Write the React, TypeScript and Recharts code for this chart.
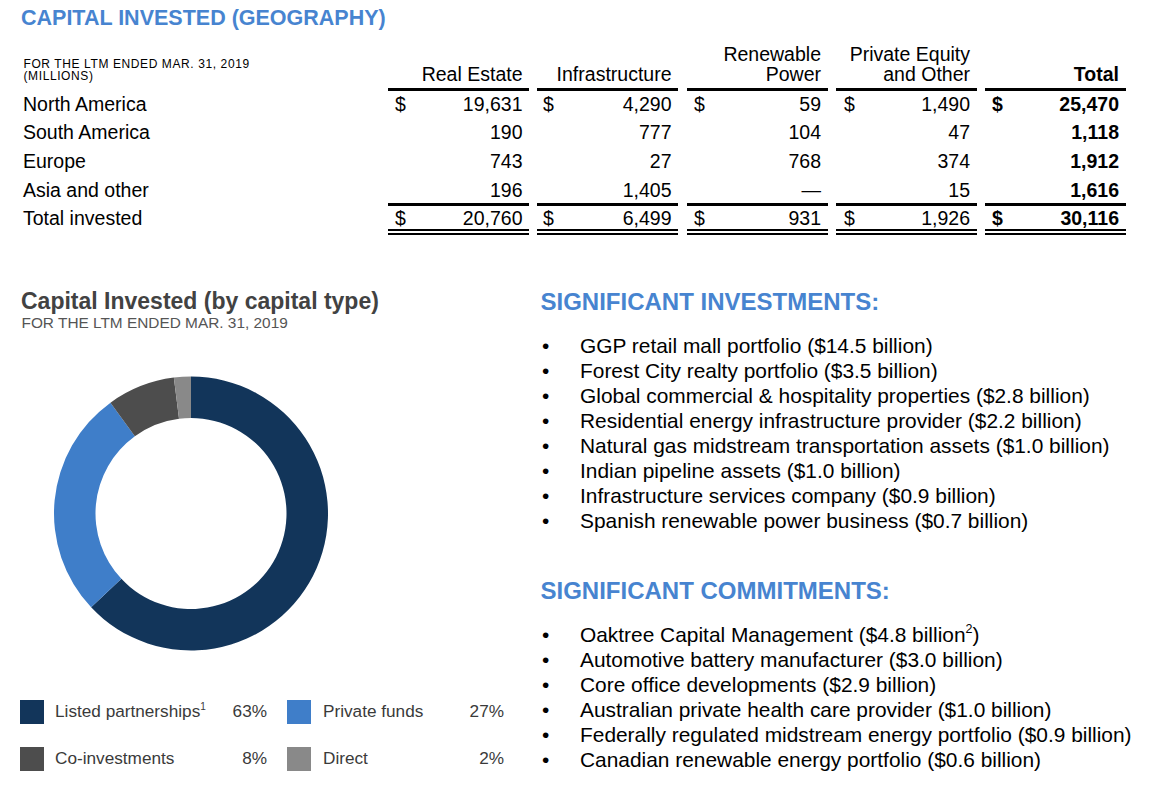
import React from "react";
import { PieChart, Pie, Cell } from "recharts";

const FONT = '"Liberation Sans", Arial, Helvetica, sans-serif';
const BLUE = "#4784d0";

// table: capital invested by geography (millions)
const regions = ["North America", "South America", "Europe", "Asia and other"];
const columnHeads = [["Real Estate"], ["Infrastructure"], ["Renewable", "Power"], ["Private Equity", "and Other"], ["Total"]];
const realEstate = [19631, 190, 743, 196];
const infrastructure = [4290, 777, 27, 1405];
const renewablePower = [59, 104, 768, null];
const privateEquity = [1490, 47, 374, 15];
const regionTotals = [25470, 1118, 1912, 1616];
const totalInvested = [20760, 6499, 931, 1926, 30116];

// donut: capital invested by capital type
const capitalTypes = ["Listed partnerships", "Private funds", "Co-investments", "Direct"];
const capitalShare = [63, 27, 8, 2];
const typeColors = ["#12355a", "#3f7ec9", "#4d4d4d", "#898989"];

const investments = [
  "GGP retail mall portfolio ($14.5 billion)",
  "Forest City realty portfolio ($3.5 billion)",
  "Global commercial & hospitality properties ($2.8 billion)",
  "Residential energy infrastructure provider ($2.2 billion)",
  "Natural gas midstream transportation assets ($1.0 billion)",
  "Indian pipeline assets ($1.0 billion)",
  "Infrastructure services company ($0.9 billion)",
  "Spanish renewable power business ($0.7 billion)",
];
const commitments = [
  "Oaktree Capital Management ($4.8 billion²)",
  "Automotive battery manufacturer ($3.0 billion)",
  "Core office developments ($2.9 billion)",
  "Australian private health care provider ($1.0 billion)",
  "Federally regulated midstream energy portfolio ($0.9 billion)",
  "Canadian renewable energy portfolio ($0.6 billion)",
];

const groupLeft = [388, 537, 687, 836, 985];
const groupWidth = 141;
const dollarLeft = [395, 543, 694, 844, 992];
const valueRight = [522.5, 671.5, 821, 970, 1119];
const rowBase = [110.5, 139.1, 167.7, 196.3];
const totalBase = 224.9;

const fmt = (v: number | null) => (v === null ? "—" : v.toLocaleString("en-US"));

function Txt({ x, base, size, lh, right, bold, color, spacing, children }: any) {
  const L = lh ?? size;
  const style: React.CSSProperties = {
    position: "absolute",
    top: base + 0.8 - (L - 1.117 * size) / 2 - 0.905 * size,
    fontSize: size,
    lineHeight: `${L}px`,
    fontWeight: bold ? 700 : 400,
    color: color ?? "#000",
    whiteSpace: "nowrap",
    letterSpacing: spacing,
  };
  if (right) style.right = 1153 - x;
  else style.left = x;
  return <div style={style}>{children}</div>;
}

function Rule({ x, y, w, h }: any) {
  return <div style={{ position: "absolute", left: x, top: y, width: w, height: h, background: "#000" }} />;
}

function withSup(text: string, size: number) {
  const parts = text.split("²");
  if (parts.length === 1) return text;
  return (
    <>
      {parts[0]}
      <span style={{ fontSize: size * 0.6, position: "relative", top: -size * 0.4 }}>2</span>
      {parts[1]}
    </>
  );
}

export default function App() {
  const pieData = capitalTypes.map((name, i) => ({ name, value: capitalShare[i] }));
  const legendPos = [
    { sx: 20, sy: 700, tx: 55, pr: 267, base: 717 },
    { sx: 287, sy: 700, tx: 323, pr: 504, base: 717 },
    { sx: 20, sy: 747, tx: 55, pr: 267, base: 763.5 },
    { sx: 287, sy: 747, tx: 323, pr: 504, base: 763.5 },
  ];

  return (
    <div
      style={{
        position: "absolute",
        left: 0,
        top: 0,
        width: 1153,
        height: 789,
        background: "#fff",
        fontFamily: FONT,
        overflow: "hidden",
      }}
    >
      <Txt x={21} base={25} size={21.5} bold color={BLUE}>CAPITAL INVESTED (GEOGRAPHY)</Txt>
      <Txt x={23.5} base={67.8} size={12} lh={10.5} spacing={0.6}>FOR THE LTM ENDED MAR. 31, 2019</Txt>
      <Txt x={23.5} base={79.5} size={12} lh={10.5} spacing={0.6}>(MILLIONS)</Txt>

      {columnHeads.map((lines, c) =>
        lines.map((l, k) => (
          <Txt key={`${c}-${k}`} x={valueRight[c]} right base={81 - (lines.length - 1 - k) * 20} size={19.5} bold={c === 4}>
            {l}
          </Txt>
        ))
      )}
      {groupLeft.map((gx, c) => (
        <React.Fragment key={c}>
          <Rule x={gx} y={87.5} w={groupWidth} h={3.2} />
          <Rule x={gx} y={202.5} w={groupWidth} h={3.2} />
          <Rule x={gx} y={228.5} w={groupWidth} h={2.2} />
          <Rule x={gx} y={232.8} w={groupWidth} h={2.2} />
        </React.Fragment>
      ))}

      {regions.map((r, i) => {
        const vals = [realEstate[i], infrastructure[i], renewablePower[i], privateEquity[i], regionTotals[i]];
        return (
          <React.Fragment key={r}>
            <Txt x={23} base={rowBase[i]} size={19.5}>{r}</Txt>
            {vals.map((v, c) => (
              <React.Fragment key={c}>
                {i === 0 && <Txt x={dollarLeft[c]} base={rowBase[i]} size={19.5} bold={c === 4}>$</Txt>}
                <Txt x={valueRight[c]} right base={rowBase[i]} size={19.5} bold={c === 4}>{fmt(v)}</Txt>
              </React.Fragment>
            ))}
          </React.Fragment>
        );
      })}
      <Txt x={23} base={totalBase} size={19.5}>Total invested</Txt>
      {totalInvested.map((v, c) => (
        <React.Fragment key={c}>
          <Txt x={dollarLeft[c]} base={totalBase} size={19.5} bold={c === 4}>$</Txt>
          <Txt x={valueRight[c]} right base={totalBase} size={19.5} bold={c === 4}>{fmt(v)}</Txt>
        </React.Fragment>
      ))}

      <Txt x={21} base={308.3} size={23} bold color="#424242">Capital Invested (by capital type)</Txt>
      <Txt x={21.5} base={327.5} size={15.4} color="#555">FOR THE LTM ENDED MAR. 31, 2019</Txt>

      <div style={{ position: "absolute", left: 31, top: 353 }}>
        <PieChart width={310} height={310}>
          <Pie
            data={pieData}
            dataKey="value"
            nameKey="name"
            cx={155}
            cy={155.5}
            innerRadius={95.5}
            outerRadius={137}
            startAngle={90}
            endAngle={-270}
            stroke="none"
            isAnimationActive={false}
          >
            {pieData.map((d, i) => (
              <Cell key={d.name} fill={typeColors[i]} />
            ))}
          </Pie>
        </PieChart>
      </div>

      {capitalTypes.map((name, i) => {
        const p = legendPos[i];
        return (
          <React.Fragment key={name}>
            <div style={{ position: "absolute", left: p.sx, top: p.sy, width: 24, height: 24, background: typeColors[i] }} />
            <Txt x={p.tx} base={p.base} size={17.2} color="#3a3a3a">
              {name}
              {i === 0 && <span style={{ fontSize: 10, position: "relative", top: -7 }}>1</span>}
            </Txt>
            <Txt x={p.pr} right base={p.base} size={17.2} color="#3a3a3a">{capitalShare[i]}%</Txt>
          </React.Fragment>
        );
      })}

      <Txt x={540.5} base={309.3} size={24} bold color={BLUE}>SIGNIFICANT INVESTMENTS:</Txt>
      {investments.map((t, i) => (
        <React.Fragment key={t}>
          <Txt x={542} base={352.7 + i * 25} size={20.9}>•</Txt>
          <Txt x={580} base={352.7 + i * 25} size={20.9}>{t}</Txt>
        </React.Fragment>
      ))}

      <Txt x={540.5} base={598.3} size={24} bold color={BLUE}>SIGNIFICANT COMMITMENTS:</Txt>
      {commitments.map((t, i) => (
        <React.Fragment key={t}>
          <Txt x={542} base={641.7 + i * 25} size={20.9}>•</Txt>
          <Txt x={580} base={641.7 + i * 25} size={20.9}>{withSup(t, 20.9)}</Txt>
        </React.Fragment>
      ))}
    </div>
  );
}
